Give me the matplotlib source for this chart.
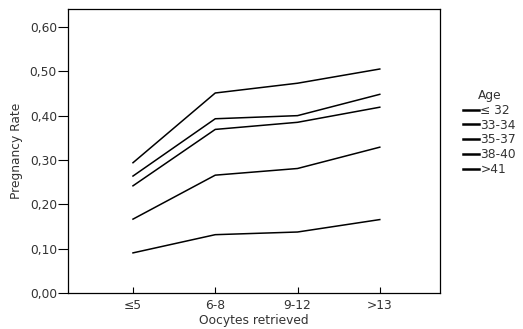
import matplotlib
matplotlib.use("Agg")
import matplotlib.pyplot as plt

categories = ["\u22645", "6-8", "9-12", ">13"]
age_groups = ["\u2264 32", "33-34", "35-37", "38-40", ">41"]
rate_le32 = [0.294, 0.451, 0.473, 0.505]
rate_33_34 = [0.264, 0.393, 0.400, 0.448]
rate_35_37 = [0.242, 0.369, 0.385, 0.419]
rate_38_40 = [0.167, 0.266, 0.281, 0.329]
rate_gt41 = [0.091, 0.132, 0.138, 0.166]
series = [rate_le32, rate_33_34, rate_35_37, rate_38_40, rate_gt41]
yticks = [0.0, 0.1, 0.2, 0.3, 0.4, 0.5, 0.6]
ytick_labels = ["0,00", "0,10", "0,20", "0,30", "0,40", "0,50", "0,60"]

plt.rcParams['font.family'] = ['DejaVu Sans']
txt = '#333333'
fs = 8.8

fig = plt.figure(figsize=(5.23, 3.29), dpi=100)
ax = fig.add_axes([0.130, 0.1085, 0.711, 0.864])

x = list(range(len(categories)))
for vals, lab in zip(series, age_groups):
    ax.plot(x, vals, color='black', lw=1.1, label=lab)

ax.set_xlim(-0.79, 3.73)
ax.set_ylim(0, 0.64)
ax.set_xticks(x)
ax.set_xticklabels(categories)
ax.set_yticks(yticks)
ax.set_yticklabels(ytick_labels)
ax.tick_params(axis='y', direction='out', length=7.5, width=0.8, labelsize=fs, colors='black', labelcolor=txt, pad=0.5)
ax.tick_params(axis='x', direction='in', length=4.5, width=0.8, labelsize=fs, colors='black', labelcolor=txt, pad=4)
for s in ax.spines.values():
    s.set_linewidth(0.9)

ax.set_xlabel("Oocytes retrieved", fontsize=fs, color=txt, labelpad=1.5)
ax.set_ylabel("Pregnancy Rate", fontsize=fs, color=txt, labelpad=5)

leg = ax.legend(title="Age", loc='upper left', bbox_to_anchor=(1.05, 0.735),
                frameon=False, fontsize=fs, title_fontsize=fs,
                handlelength=1.3, handletextpad=0.1, labelspacing=0.14,
                borderaxespad=0)
for t in leg.get_texts():
    t.set_color(txt)
leg.get_title().set_color(txt)
for h in leg.legend_handles:
    h.set_linewidth(1.8)

fig.savefig("out.png", dpi=100)
